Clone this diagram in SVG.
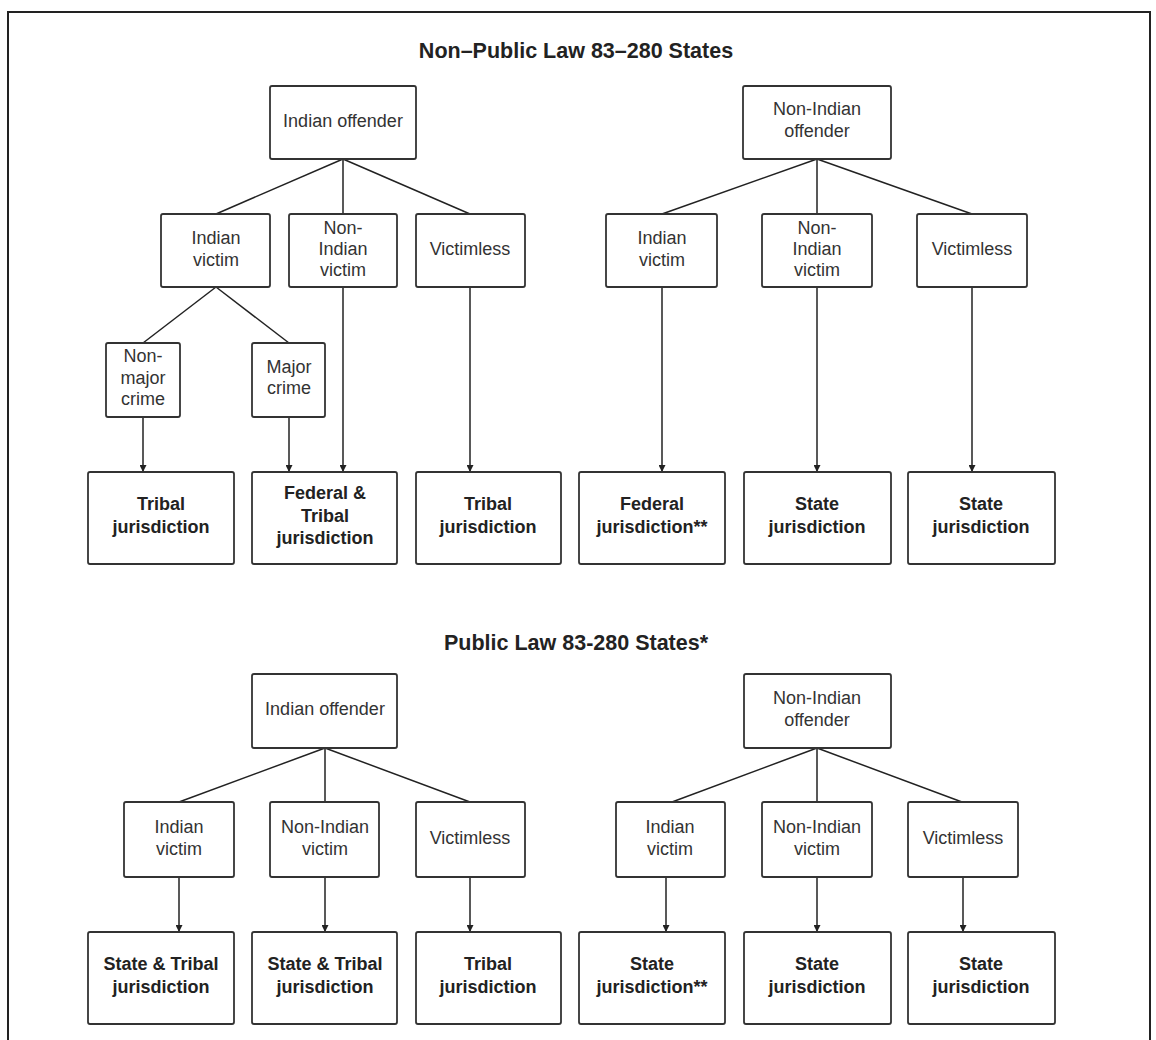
<svg xmlns="http://www.w3.org/2000/svg" width="1156" height="1040" viewBox="0 0 1156 1040">
<defs>
<style>
.b{fill:#fff;stroke:#333;stroke-width:1.8}
.t{font-family:"Liberation Sans",Arial,sans-serif;font-size:18px;fill:#333;text-anchor:middle}
.r{font-family:"Liberation Sans",Arial,sans-serif;font-size:18px;font-weight:bold;fill:#222;text-anchor:middle}
.h{font-family:"Liberation Sans",Arial,sans-serif;font-size:21.5px;font-weight:bold;fill:#222;text-anchor:middle}
.c line{stroke:#222;stroke-width:1.5;fill:none}
.c line.a{marker-end:url(#ah)}
</style>
<marker id="ah" viewBox="0 0 10 10" refX="10" refY="5" markerWidth="7" markerHeight="7" markerUnits="userSpaceOnUse" orient="auto">
<path d="M0,0 L10,5 L0,10 z" fill="#222"/>
</marker>
</defs>
<rect x="0" y="0" width="1156" height="1040" fill="#fff"/>
<path d="M8,1040 V12 H1150 V1040" fill="none" stroke="#222" stroke-width="2"/>

<text class="h" x="576" y="58">Non–Public Law 83–280 States</text>
<text class="h" x="576" y="650">Public Law 83-280 States*</text>

<g class="c" id="connectors">
<line x1="343" y1="159" x2="216" y2="214"/>
<line x1="343" y1="159" x2="343" y2="214"/>
<line x1="343" y1="159" x2="470" y2="214"/>
<line x1="216" y1="287" x2="143" y2="343"/>
<line x1="216" y1="287" x2="289" y2="343"/>
<line class="a" x1="143" y1="417" x2="143" y2="472"/>
<line class="a" x1="289" y1="417" x2="289" y2="472"/>
<line class="a" x1="343" y1="287" x2="343" y2="472"/>
<line class="a" x1="470" y1="287" x2="470" y2="472"/>
<line x1="817" y1="159" x2="662" y2="214"/>
<line x1="817" y1="159" x2="817" y2="214"/>
<line x1="817" y1="159" x2="972" y2="214"/>
<line class="a" x1="662" y1="287" x2="662" y2="472"/>
<line class="a" x1="817" y1="287" x2="817" y2="472"/>
<line class="a" x1="972" y1="287" x2="972" y2="472"/>
<line x1="325" y1="748" x2="179" y2="802"/>
<line x1="325" y1="748" x2="325" y2="802"/>
<line x1="325" y1="748" x2="470" y2="802"/>
<line class="a" x1="179" y1="877" x2="179" y2="932"/>
<line class="a" x1="325" y1="877" x2="325" y2="932"/>
<line class="a" x1="470" y1="877" x2="470" y2="932"/>
<line x1="817" y1="748" x2="672" y2="802"/>
<line x1="817" y1="748" x2="817" y2="802"/>
<line x1="817" y1="748" x2="962" y2="802"/>
<line class="a" x1="666" y1="877" x2="666" y2="932"/>
<line class="a" x1="817" y1="877" x2="817" y2="932"/>
<line class="a" x1="963" y1="877" x2="963" y2="932"/>
</g>

<!-- Top left tree -->
<g id="n1"><rect class="b" x="270" y="86" width="146" height="73" rx="2"/><text class="t" x="343" y="127">Indian offender</text></g>
<g id="n2"><rect class="b" x="161" y="214" width="109" height="73" rx="2"/><text class="t" x="216" y="244">Indian</text><text class="t" x="216" y="266">victim</text></g>
<g id="n3"><rect class="b" x="289" y="214" width="108" height="73" rx="2"/><text class="t" x="343" y="234">Non-</text><text class="t" x="343" y="255">Indian</text><text class="t" x="343" y="276">victim</text></g>
<g id="n4"><rect class="b" x="416" y="214" width="109" height="73" rx="2"/><text class="t" x="470" y="255">Victimless</text></g>
<g id="n5"><rect class="b" x="106" y="343" width="74" height="74" rx="2"/><text class="t" x="143" y="362">Non-</text><text class="t" x="143" y="384">major</text><text class="t" x="143" y="405">crime</text></g>
<g id="n6"><rect class="b" x="252" y="343" width="73" height="74" rx="2"/><text class="t" x="289" y="373">Major</text><text class="t" x="289" y="394">crime</text></g>
<g id="n7"><rect class="b" x="88" y="472" width="146" height="92" rx="2"/><text class="r" x="161" y="510">Tribal</text><text class="r" x="161" y="533">jurisdiction</text></g>
<g id="n8"><rect class="b" x="252" y="472" width="145" height="92" rx="2"/><text class="r" x="325" y="499">Federal &amp;</text><text class="r" x="325" y="522">Tribal</text><text class="r" x="325" y="544">jurisdiction</text></g>
<g id="n9"><rect class="b" x="416" y="472" width="145" height="92" rx="2"/><text class="r" x="488" y="510">Tribal</text><text class="r" x="488" y="533">jurisdiction</text></g>

<!-- Top right tree -->
<g id="n10"><rect class="b" x="743" y="86" width="148" height="73" rx="2"/><text class="t" x="817" y="115">Non-Indian</text><text class="t" x="817" y="137">offender</text></g>
<g id="n11"><rect class="b" x="606" y="214" width="111" height="73" rx="2"/><text class="t" x="662" y="244">Indian</text><text class="t" x="662" y="266">victim</text></g>
<g id="n12"><rect class="b" x="762" y="214" width="110" height="73" rx="2"/><text class="t" x="817" y="234">Non-</text><text class="t" x="817" y="255">Indian</text><text class="t" x="817" y="276">victim</text></g>
<g id="n13"><rect class="b" x="917" y="214" width="110" height="73" rx="2"/><text class="t" x="972" y="255">Victimless</text></g>
<g id="n14"><rect class="b" x="579" y="472" width="146" height="92" rx="2"/><text class="r" x="652" y="510">Federal</text><text class="r" x="652" y="533">jurisdiction**</text></g>
<g id="n15"><rect class="b" x="744" y="472" width="147" height="92" rx="2"/><text class="r" x="817" y="510">State</text><text class="r" x="817" y="533">jurisdiction</text></g>
<g id="n16"><rect class="b" x="908" y="472" width="147" height="92" rx="2"/><text class="r" x="981" y="510">State</text><text class="r" x="981" y="533">jurisdiction</text></g>

<!-- Bottom left tree -->
<g id="n17"><rect class="b" x="252" y="674" width="145" height="74" rx="2"/><text class="t" x="325" y="715">Indian offender</text></g>
<g id="n18"><rect class="b" x="124" y="802" width="110" height="75" rx="2"/><text class="t" x="179" y="833">Indian</text><text class="t" x="179" y="855">victim</text></g>
<g id="n19"><rect class="b" x="270" y="802" width="109" height="75" rx="2"/><text class="t" x="325" y="833">Non-Indian</text><text class="t" x="325" y="855">victim</text></g>
<g id="n20"><rect class="b" x="416" y="802" width="109" height="75" rx="2"/><text class="t" x="470" y="844">Victimless</text></g>
<g id="n21"><rect class="b" x="88" y="932" width="146" height="92" rx="2"/><text class="r" x="161" y="970">State &amp; Tribal</text><text class="r" x="161" y="993">jurisdiction</text></g>
<g id="n22"><rect class="b" x="252" y="932" width="145" height="92" rx="2"/><text class="r" x="325" y="970">State &amp; Tribal</text><text class="r" x="325" y="993">jurisdiction</text></g>
<g id="n23"><rect class="b" x="416" y="932" width="145" height="92" rx="2"/><text class="r" x="488" y="970">Tribal</text><text class="r" x="488" y="993">jurisdiction</text></g>

<!-- Bottom right tree -->
<g id="n24"><rect class="b" x="744" y="674" width="147" height="74" rx="2"/><text class="t" x="817" y="704">Non-Indian</text><text class="t" x="817" y="726">offender</text></g>
<g id="n25"><rect class="b" x="616" y="802" width="109" height="75" rx="2"/><text class="t" x="670" y="833">Indian</text><text class="t" x="670" y="855">victim</text></g>
<g id="n26"><rect class="b" x="762" y="802" width="110" height="75" rx="2"/><text class="t" x="817" y="833">Non-Indian</text><text class="t" x="817" y="855">victim</text></g>
<g id="n27"><rect class="b" x="908" y="802" width="110" height="75" rx="2"/><text class="t" x="963" y="844">Victimless</text></g>
<g id="n28"><rect class="b" x="579" y="932" width="146" height="92" rx="2"/><text class="r" x="652" y="970">State</text><text class="r" x="652" y="993">jurisdiction**</text></g>
<g id="n29"><rect class="b" x="744" y="932" width="147" height="92" rx="2"/><text class="r" x="817" y="970">State</text><text class="r" x="817" y="993">jurisdiction</text></g>
<g id="n30"><rect class="b" x="908" y="932" width="147" height="92" rx="2"/><text class="r" x="981" y="970">State</text><text class="r" x="981" y="993">jurisdiction</text></g>
</svg>
